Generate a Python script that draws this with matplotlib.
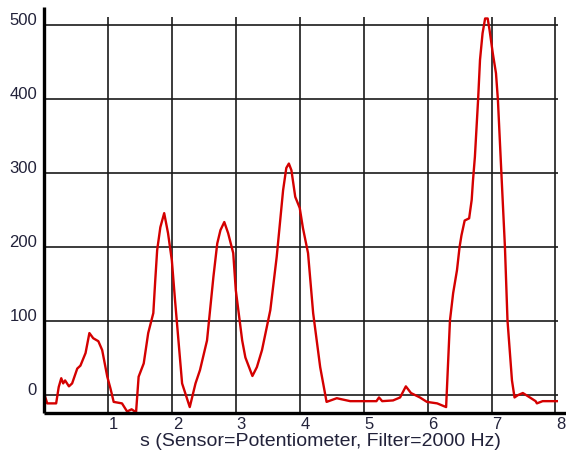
import numpy as np
import matplotlib
matplotlib.use("Agg")
import matplotlib.pyplot as plt
from matplotlib.transforms import ScaledTranslation

# potentiometer trace, seconds vs reading
t = [0.00, 0.05, 0.19, 0.23, 0.27, 0.30, 0.33, 0.39, 0.44, 0.52, 0.57, 0.65,
     0.71, 0.77, 0.85, 0.91, 0.99, 1.04, 1.09, 1.22, 1.30, 1.37, 1.44, 1.48,
     1.56, 1.63, 1.71, 1.74, 1.77, 1.82, 1.88, 1.94, 2.00, 2.05, 2.16, 2.28,
     2.37, 2.44, 2.55, 2.65, 2.71, 2.76, 2.82, 2.88, 2.96, 3.00, 3.10, 3.15,
     3.26, 3.33, 3.41, 3.54, 3.64, 3.68, 3.74, 3.79, 3.83, 3.87, 3.93, 4.00,
     4.05, 4.13, 4.21, 4.32, 4.42, 4.58, 4.63, 4.79, 4.89, 5.20, 5.24, 5.29,
     5.46, 5.57, 5.66, 5.74, 5.88, 5.99, 6.15, 6.29, 6.35, 6.40, 6.46, 6.50,
     6.53, 6.58, 6.65, 6.69, 6.71, 6.74, 6.79, 6.82, 6.86, 6.90, 6.94, 6.97,
     7.02, 7.07, 7.10, 7.16, 7.21, 7.25, 7.32, 7.36, 7.41, 7.49, 7.60, 7.69,
     7.71, 7.80, 8.04]
v = [3, -11, -11, 11, 23, 16, 20, 12, 16, 36, 40, 57,
     84, 77, 73, 61, 25, 9, -9, -11, -22, -19, -23, 25,
     43, 84, 111, 155, 196, 227, 246, 219, 182, 128, 16, -16,
     16, 34, 74, 160, 205, 223, 234, 219, 192, 142, 74, 51,
     26, 38, 61, 115, 187, 223, 277, 307, 313, 304, 268, 253,
     226, 192, 111, 38, -9, -4, -5, -8, -8, -8, -3, -8,
     -7, -3, 12, 3, -3, -9, -11, -16, 101, 138, 169, 200,
     216, 236, 239, 264, 290, 322, 399, 453, 489, 509, 509, 493,
     462, 435, 399, 290, 200, 101, 20, -3, 0, 3, -3, -8,
     -11, -8, -8]

x_ticks = [1, 2, 3, 4, 5, 6, 7, 8]
y_ticks = [0, 100, 200, 300, 400, 500]
x_label = "s (Sensor=Potentiometer, Filter=2000 Hz)"

plt.rcParams['font.family'] = ['Liberation Sans', 'DejaVu Sans']
txt_col = '#22223a'

fig = plt.figure(figsize=(5.66, 4.57), dpi=100)
W, H = 566, 457
ax = fig.add_axes([44 / W, (H - 413) / H, (558 - 44) / W, (413 - 17) / H])
ax.set_xlim(0, 8.04)
ax.set_ylim(-24, 511)

for s in ax.spines.values():
    s.set_visible(False)

for xv in x_ticks:
    ax.axvline(xv, color='#1a1a1a', lw=1.2, zorder=1)
for yv in y_ticks:
    ax.axhline(yv, color='#1a1a1a', lw=1.2, zorder=1)

# heavy axis lines that run past the grid
ax.plot([0, 0], [-24, 524], color='black', lw=2.4, clip_on=False, zorder=3,
        solid_capstyle='butt')
ax.plot([0, 8.16], [-24, -24], color='black', lw=2.4, clip_on=False, zorder=3,
        solid_capstyle='butt')

ax.plot(t, v, color='#d40000', lw=1.7, zorder=2, solid_joinstyle='round')

ax.set_xticks(x_ticks)
ax.set_yticks(y_ticks)
ax.tick_params(length=0, labelsize=12, labelcolor=txt_col)
ax.tick_params(axis='y', pad=5)
ax.tick_params(axis='x', pad=3)
for lab in ax.get_yticklabels():
    lab.set_verticalalignment('baseline')
for lab in ax.get_xticklabels():
    lab.set_horizontalalignment('left')
    lab.set_transform(lab.get_transform() + ScaledTranslation(1 / 100, 0, fig.dpi_scale_trans))

fig.text(320 / W, (H - 441) / H, x_label, ha='center', va='center',
         fontsize=14, color=txt_col)

fig.savefig('out.png', dpi=100)
